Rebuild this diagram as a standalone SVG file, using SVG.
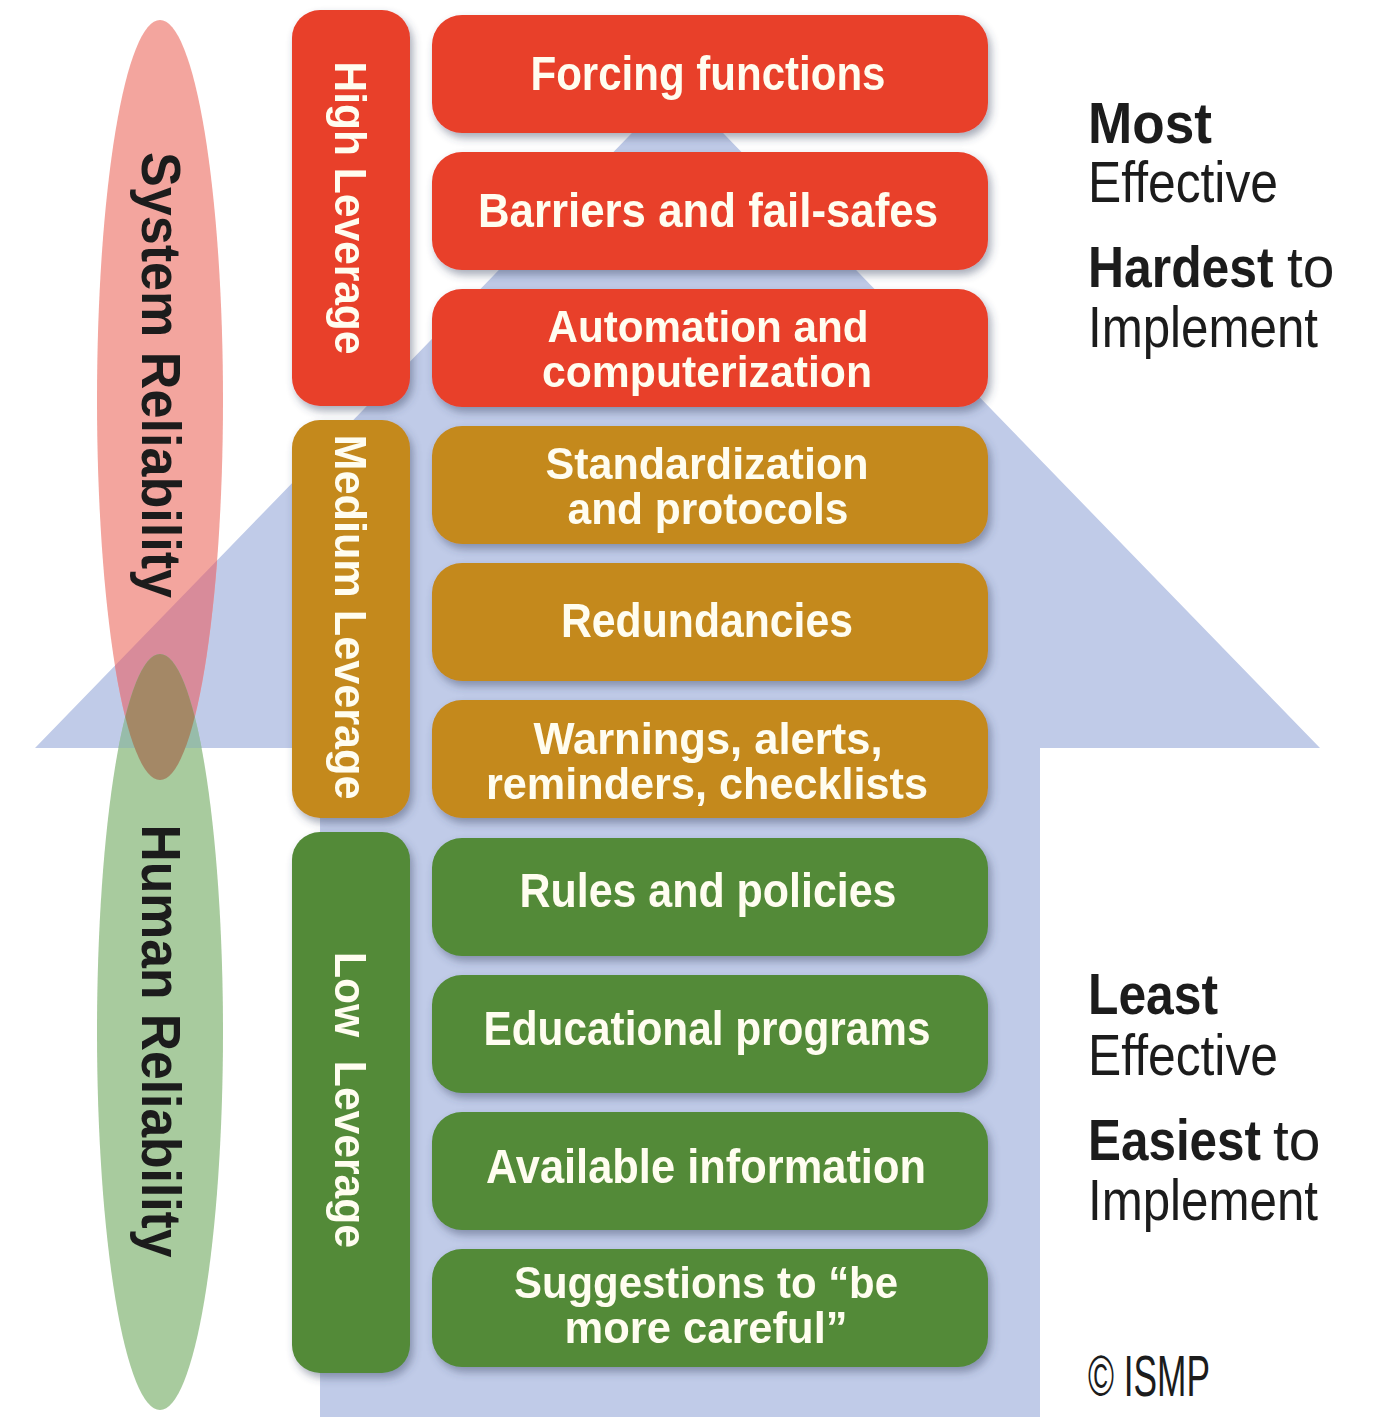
<svg xmlns="http://www.w3.org/2000/svg" width="1376" height="1417" viewBox="0 0 1376 1417">
  <style>
    .bar { stroke: none; }
    .high { fill: #e8412b; }
    .med { fill: #c4891f; }
    .low { fill: #538a37; }
    .lbl { font-family: "Liberation Sans Narrow", "Liberation Sans", Arial, sans-serif; font-weight: 700; fill: #fffdf0; font-size: 48px; text-anchor: middle; }
    .lbl2 { font-size: 44px; }
    .vlbl { font-family: "Liberation Sans Narrow", "Liberation Sans", Arial, sans-serif; font-weight: 700; fill: #fffdf0; font-size: 44px; text-anchor: middle; }
    .rel { font-family: "Liberation Sans", Arial, sans-serif; font-weight: 700; fill: #1c1c1c; font-size: 56px; text-anchor: middle; }
    .side { font-family: "Liberation Sans Narrow", "Liberation Sans", Arial, sans-serif; fill: #1c1c1c; font-size: 58px; }
    .side2 { font-family: "Liberation Sans", Arial, sans-serif; fill: #1c1c1c; font-size: 58px; }
    .b { font-weight: 700; }
    .r { font-weight: 400; }
  </style>
  <defs>
    <filter id="shadow" x="-10%" y="-20%" width="125%" height="150%">
      <feDropShadow dx="3" dy="5" stdDeviation="4" flood-color="#3a4560" flood-opacity="0.45"/>
    </filter>
    <clipPath id="clipArrow">
      <polygon points="677.5,86 1320,748 1040,748 1040,1417 320,1417 320,748 35,748"/>
    </clipPath>
    <clipPath id="clipPink">
      <ellipse cx="160" cy="400" rx="63" ry="380"/>
    </clipPath>
  </defs>

  <rect width="1376" height="1417" fill="#ffffff"/>

  <!-- upward arrow in the background -->
  <g id="arrow">
    <polygon points="677.5,86 1320,748 1040,748 1040,1417 320,1417 320,748 35,748" fill="#c0cbe8"/>
  </g>

  <!-- reliability ellipses -->
  <g id="system-reliability">
    <ellipse cx="160" cy="400" rx="63" ry="380" fill="#f3a59e"/>
  </g>
  <g id="human-reliability">
    <ellipse cx="160" cy="1032" rx="63" ry="378" fill="#a8cb9e"/>
  </g>
  <g id="ellipse-overlaps">
    <g clip-path="url(#clipArrow)">
      <ellipse cx="160" cy="400" rx="63" ry="380" fill="#d88b9a"/>
      <ellipse cx="160" cy="1032" rx="63" ry="378" fill="#97bcaa"/>
    </g>
    <ellipse cx="160" cy="1032" rx="63" ry="378" fill="#a48866" clip-path="url(#clipPink)"/>
  </g>
  <text class="rel" transform="translate(142,375) rotate(90)" textLength="446" lengthAdjust="spacingAndGlyphs">System Reliability</text>
  <text class="rel" transform="translate(142,1041) rotate(90)" textLength="433" lengthAdjust="spacingAndGlyphs">Human Reliability</text>

  <!-- leverage bars -->
  <g id="high-leverage" filter="url(#shadow)">
    <rect class="bar high" x="292" y="10" width="118" height="396" rx="28"/>
    <text class="vlbl" transform="translate(335,208) rotate(90)" textLength="293" lengthAdjust="spacingAndGlyphs">High Leverage</text>
  </g>
  <g id="medium-leverage" filter="url(#shadow)">
    <rect class="bar med" x="292" y="420" width="118" height="398" rx="28"/>
    <text class="vlbl" transform="translate(335,617) rotate(90)" textLength="365" lengthAdjust="spacingAndGlyphs">Medium Leverage</text>
  </g>
  <g id="low-leverage" filter="url(#shadow)">
    <rect class="bar low" x="292" y="832" width="118" height="541" rx="28"/>
    <text class="vlbl" transform="translate(335,1100) rotate(90)" textLength="296" lengthAdjust="spacingAndGlyphs" xml:space="preserve">Low  Leverage</text>
  </g>

  <!-- strategy boxes -->
  <g id="forcing-functions" filter="url(#shadow)">
    <rect class="bar high" x="432" y="15" width="556" height="118" rx="30"/>
    <text class="lbl" x="708" y="90" textLength="355" lengthAdjust="spacingAndGlyphs">Forcing functions</text>
  </g>
  <g id="barriers" filter="url(#shadow)">
    <rect class="bar high" x="432" y="152" width="556" height="118" rx="30"/>
    <text class="lbl" x="708" y="227" textLength="460" lengthAdjust="spacingAndGlyphs">Barriers and fail-safes</text>
  </g>
  <g id="automation" filter="url(#shadow)">
    <rect class="bar high" x="432" y="289" width="556" height="118" rx="30"/>
    <text class="lbl lbl2" x="708" y="342" textLength="321" lengthAdjust="spacingAndGlyphs">Automation and</text>
    <text class="lbl lbl2" x="707" y="387" textLength="330" lengthAdjust="spacingAndGlyphs">computerization</text>
  </g>
  <g id="standardization" filter="url(#shadow)">
    <rect class="bar med" x="432" y="426" width="556" height="118" rx="30"/>
    <text class="lbl lbl2" x="707" y="479" textLength="323" lengthAdjust="spacingAndGlyphs">Standardization</text>
    <text class="lbl lbl2" x="708" y="524" textLength="281" lengthAdjust="spacingAndGlyphs">and protocols</text>
  </g>
  <g id="redundancies" filter="url(#shadow)">
    <rect class="bar med" x="432" y="563" width="556" height="118" rx="30"/>
    <text class="lbl" x="707" y="637" textLength="292" lengthAdjust="spacingAndGlyphs">Redundancies</text>
  </g>
  <g id="warnings" filter="url(#shadow)">
    <rect class="bar med" x="432" y="700" width="556" height="118" rx="30"/>
    <text class="lbl lbl2" x="708" y="754" textLength="349" lengthAdjust="spacingAndGlyphs">Warnings, alerts,</text>
    <text class="lbl lbl2" x="707" y="799" textLength="442" lengthAdjust="spacingAndGlyphs">reminders, checklists</text>
  </g>
  <g id="rules" filter="url(#shadow)">
    <rect class="bar low" x="432" y="838" width="556" height="118" rx="30"/>
    <text class="lbl" x="708" y="907" textLength="377" lengthAdjust="spacingAndGlyphs">Rules and policies</text>
  </g>
  <g id="education" filter="url(#shadow)">
    <rect class="bar low" x="432" y="975" width="556" height="118" rx="30"/>
    <text class="lbl" x="707" y="1045" textLength="447" lengthAdjust="spacingAndGlyphs">Educational programs</text>
  </g>
  <g id="information" filter="url(#shadow)">
    <rect class="bar low" x="432" y="1112" width="556" height="118" rx="30"/>
    <text class="lbl" x="706" y="1183" textLength="440" lengthAdjust="spacingAndGlyphs">Available information</text>
  </g>
  <g id="suggestions" filter="url(#shadow)">
    <rect class="bar low" x="432" y="1249" width="556" height="118" rx="30"/>
    <text class="lbl lbl2" x="706" y="1298" textLength="384" lengthAdjust="spacingAndGlyphs">Suggestions to “be</text>
    <text class="lbl lbl2" x="706" y="1343" textLength="283" lengthAdjust="spacingAndGlyphs">more careful”</text>
  </g>

  <!-- scale captions -->
  <g id="top-caption">
    <text class="side b" x="1088" y="143" textLength="124" lengthAdjust="spacingAndGlyphs">Most</text>
    <text class="side r" x="1088" y="202" textLength="190" lengthAdjust="spacingAndGlyphs">Effective</text>
    <text class="side2 b" transform="translate(1088,287) scale(0.86,1)">Hardest</text>
    <text class="side2 r" transform="translate(1287,287) scale(0.98,1)">to</text>
    <text class="side r" x="1088" y="347" textLength="230" lengthAdjust="spacingAndGlyphs">Implement</text>
  </g>
  <g id="bottom-caption">
    <text class="side b" x="1088" y="1014" textLength="130" lengthAdjust="spacingAndGlyphs">Least</text>
    <text class="side r" x="1088" y="1075" textLength="190" lengthAdjust="spacingAndGlyphs">Effective</text>
    <text class="side2 b" transform="translate(1088,1160) scale(0.852,1)">Easiest</text>
    <text class="side2 r" transform="translate(1273,1160) scale(0.98,1)">to</text>
    <text class="side r" x="1088" y="1220" textLength="230" lengthAdjust="spacingAndGlyphs">Implement</text>
  </g>
  <g id="copyright">
    <text class="side r" x="1088" y="1396" font-size="44" textLength="122" lengthAdjust="spacingAndGlyphs">© ISMP</text>
  </g>
</svg>
